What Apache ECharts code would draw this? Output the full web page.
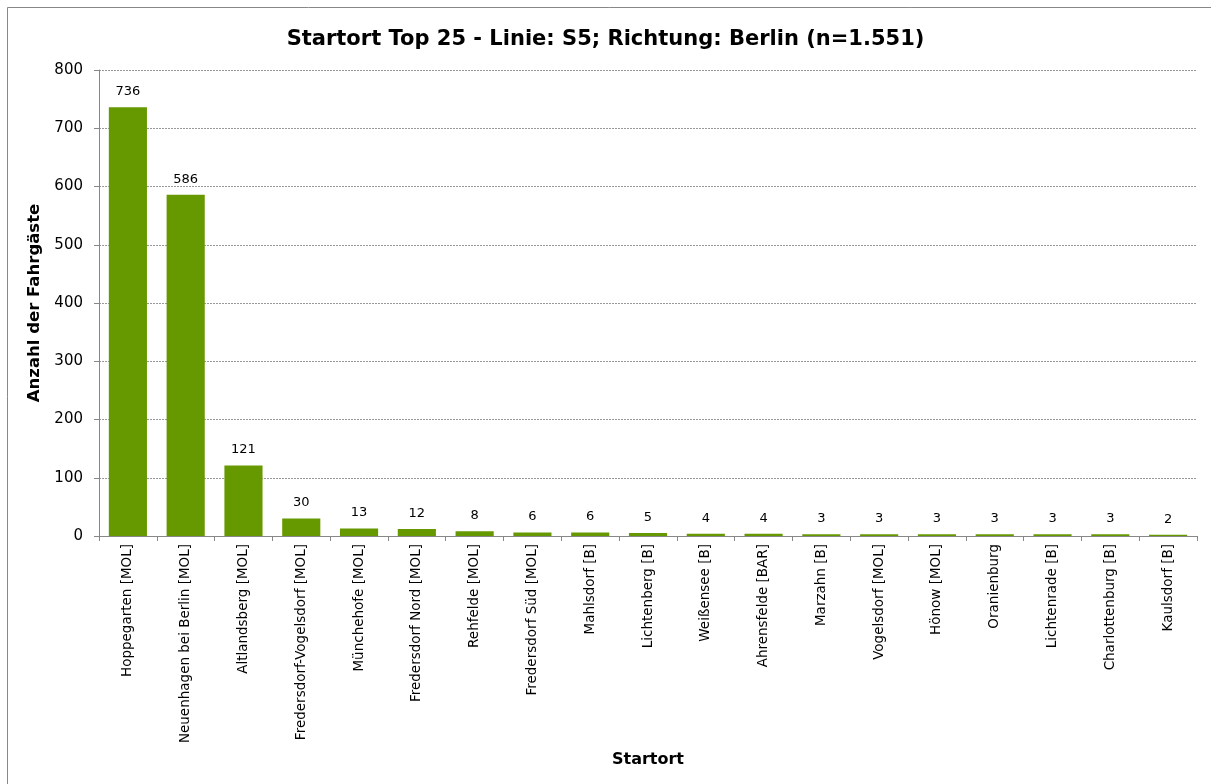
<!DOCTYPE html>
<html><head><meta charset="utf-8">
<script src="https://cdn.jsdelivr.net/npm/echarts@6/dist/echarts.min.js"></script>
<style>html,body{margin:0;padding:0;background:#fff}#c{width:1211px;height:784px}</style>
</head><body><div id="c"></div>
<script>
const titleText = 'Startort Top 25 - Linie: S5; Richtung: Berlin (n=1.551)';
const categories = ['Hoppegarten [MOL]','Neuenhagen bei Berlin [MOL]','Altlandsberg [MOL]','Fredersdorf-Vogelsdorf [MOL]','Münchehofe [MOL]','Fredersdorf Nord [MOL]','Rehfelde [MOL]','Fredersdorf Süd [MOL]','Mahlsdorf [B]','Lichtenberg [B]','Weißensee [B]','Ahrensfelde [BAR]','Marzahn [B]','Vogelsdorf [MOL]','Hönow [MOL]','Oranienburg','Lichtenrade [B]','Charlottenburg [B]','Kaulsdorf [B]'];
const values = [736,586,121,30,13,12,8,6,6,5,4,4,3,3,3,3,3,3,2];
const yAxisName = 'Anzahl der Fahrgäste';
const xAxisName = 'Startort';
const font = 'Tahoma, "DejaVu Sans", sans-serif';
const chart = echarts.init(document.getElementById('c'));
chart.setOption({
  backgroundColor:'#fff',
  animation:false,
  graphic:[{type:'rect',shape:{x:7.5,y:7.5,width:1220,height:800},style:{fill:'none',stroke:'#888',lineWidth:1},silent:true}],
  title:{text:titleText,left:'center',top:24,textStyle:{fontFamily:font,fontSize:21,fontWeight:'bold',color:'#000'}},
  grid:{left:99,right:14,top:70,bottom:248,containLabel:false},
  xAxis:{type:'category',data:categories,name:xAxisName,nameLocation:'middle',nameGap:216,
    nameTextStyle:{fontFamily:font,fontSize:16,fontWeight:'bold',color:'#000'},
    axisLine:{lineStyle:{color:'#888'}},axisTick:{show:true,alignWithLabel:false,lineStyle:{color:'#888'}},
    axisLabel:{rotate:90,interval:0,fontFamily:font,fontSize:13.5,color:'#000',margin:8}},
  yAxis:{type:'value',min:0,max:800,interval:100,name:yAxisName,nameLocation:'middle',nameGap:51,
    nameTextStyle:{fontFamily:font,fontSize:16.5,fontWeight:'bold',color:'#000'},
    axisLine:{show:true,lineStyle:{color:'#888'}},axisTick:{show:true,inside:false,length:5,lineStyle:{color:'#888'}},
    axisLabel:{fontFamily:font,fontSize:15,color:'#000',margin:16},
    splitLine:{lineStyle:{color:'#999',type:[2,1]}}},
  series:[{type:'bar',data:values,barCategoryGap:'34%',itemStyle:{color:'#669900'},
    label:{show:true,position:'top',distance:9,fontFamily:font,fontSize:13,color:'#000'}}]
});
</script></body></html>
